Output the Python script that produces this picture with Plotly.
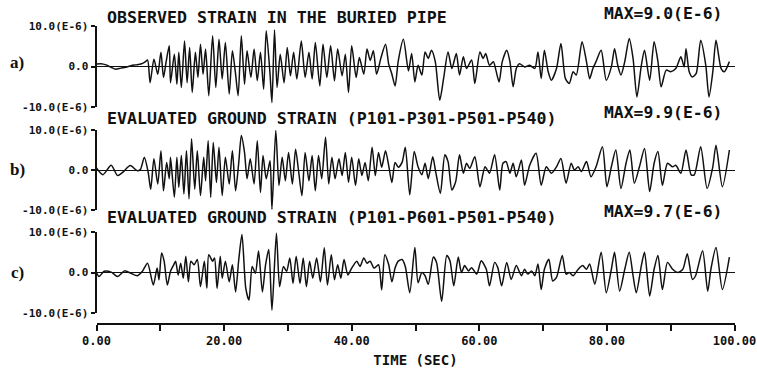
import plotly.graph_objects as go

# ---------------- data (strain in units of 1E-6, time in seconds) ----------------
t_a = [0.0, 0.7, 1.5, 2.3, 3.0, 3.8, 4.6, 5.4, 6.2, 6.95, 7.5,
       8.0, 8.4, 9.0, 9.6, 10.1, 10.5, 10.9, 11.4, 11.6, 12.2, 12.6, 12.9, 13.3, 13.8,
       14.2, 14.6, 15.0, 15.5, 15.9, 16.3, 16.7, 17.1, 17.6, 18.2, 18.7, 19.2, 19.7,
       20.2, 20.8, 21.3, 21.8, 22.2, 22.7, 23.2, 23.6, 24.2, 24.7, 25.2, 25.7, 26.2,
       26.6, 27.2, 27.5, 27.9, 28.3, 28.8, 29.4, 29.9, 30.4, 30.9, 31.4, 32.1, 32.7,
       33.3, 33.8, 34.3, 35.0, 35.5, 36.1, 36.7, 37.3, 37.8, 38.5, 39.0, 39.5, 40.0,
       40.7, 41.2, 41.9, 42.4, 42.9, 43.4, 43.9, 44.6, 45.3, 45.8, 46.3, 46.8, 47.3,
       48.1, 48.9,
       49.4, 49.9, 50.4, 51.0, 51.5, 52.0, 52.5, 53.1, 53.8, 54.4, 55.1, 55.7, 56.4,
       56.9, 57.5, 58.0, 58.8, 59.3, 60.1, 60.6, 61.0, 61.6, 62.2, 62.6, 63.1, 63.6,
       64.3, 64.8, 65.3, 65.8, 66.3, 67.1, 67.9, 68.7, 69.2, 69.7, 70.2, 70.8, 71.3,
       72.1, 72.8, 73.5, 74.1, 74.7, 75.2, 76.1, 76.8, 77.3, 77.8, 78.3, 79.1, 79.9,
       80.7, 81.2, 81.7, 82.2, 82.8, 83.5, 84.1, 84.7, 85.4, 85.9, 86.7, 87.4, 88.0,
       88.5, 89.3, 90.0, 90.8, 91.6, 92.1, 92.4, 92.9, 93.4, 94.0, 94.7, 95.5, 96.0,
       96.6, 97.1, 97.9, 98.4, 99.2]
v_a = [0.6, 0.7, 0.4, -0.2, -0.7, -0.4, -0.2, 0.2, 0.4, 0.6, 1.0,
       1.6, -4.0, 1.8, -1.9, 3.5, -2.7, 1.0, 5.1, -4.0, 3.0, -4.4, 3.5, -5.2, 6.3,
       -4.0, 4.7, -6.4, 3.5, -2.7, 5.5, -1.9, 4.3, -7.2, 7.6, -5.2, 6.7, -3.1,
       5.9, -6.8, 3.9, -1.9, -7.2, 7.6, -4.4, 3.9, -2.7, 4.3, -3.5, 3.5, -5.6,
       8.8, -1.9, -8.9, 9.0, -5.2, 3.0, -4.0, 4.7, -2.3, 3.5, -3.1, 6.3, -2.7,
       3.5, -3.1, 5.9, -4.8, 5.5, -2.7, 5.1, -3.5, 4.3, -2.3, 3.0, -6.4, 5.1,
       -2.7, 2.2, -1.9, 4.3, 1.5, 3.9, -1.9, 2.2, 5.5, 0.6, -1.9, -4.8, 1.4,
       6.7, -1.1,
       3.2, -3.8, 0.3, -2.1, 3.6, 2.0, 4.0, 1.2, -8.3, -3.0, 3.6, -0.5, 3.2,
       -2.1, 2.4, -0.5, 1.6, -4.2, 3.6, 2.0, 3.2, 0.3, 1.2, -0.9, -3.8, 1.2,
       4.0, 1.2, -5.0, -0.5, 0.7, -0.1, 0.3, -0.5, 3.6, -3.0, 4.0, -1.3, -3.4,
       -0.5, 5.7, -3.0, -4.2, -1.3, -2.1, 6.1, 1.2, -3.0, -0.5, 1.2, 4.0, -3.4,
       -0.1, 4.4, 0.3, -2.1, 1.2, 6.9, 2.0, -7.5, 0.3, 4.0, -3.4, 6.1, 1.2,
       -5.0, -0.9, -1.3, -0.5, 2.4, -0.1, 4.4, -1.3, -2.6, -1.7, 6.5, 0.3, -7.5,
       -1.3, 6.5, -0.5, -1.3, 1.2]

t_b = [0.0, 1.0, 2.3, 3.3, 4.1, 5.3, 6.4, 6.9, 7.5, 8.1, 8.5, 9.0, 9.6, 10.1, 10.5,
       11.0, 11.4, 11.6, 12.2, 12.6, 12.9, 13.3, 13.7, 14.1, 14.5, 14.9, 15.4, 15.8,
       16.3, 16.8, 17.1, 17.5, 17.9, 18.3, 18.8, 19.2, 19.7, 20.2, 20.8, 21.3, 21.8,
       22.3, 22.7, 23.2, 23.6, 24.1, 24.7, 25.2, 25.7, 26.1, 26.6, 27.2, 27.5, 28.1,
       28.6, 29.1, 29.6, 30.1, 30.7, 31.2, 31.7, 32.2, 32.7, 33.3, 33.8, 34.3, 34.8,
       35.3, 35.9, 36.4, 36.9, 37.4, 38.0, 38.5, 39.0, 39.5, 40.0, 40.6, 41.1, 41.6,
       42.1, 42.6, 43.2, 43.7, 44.2, 44.7, 45.3, 45.8, 46.3, 46.8, 47.3, 47.9, 48.4,
       49.1, 49.8, 50.4, 51.0, 51.5, 52.0, 52.7, 53.2, 53.9, 54.6, 55.1, 55.7, 56.3,
       56.9, 57.5, 58.0, 58.5, 59.3, 60.1, 60.9, 61.6, 62.4, 63.2, 63.7, 64.2, 64.8,
       65.3, 65.8, 66.6, 67.1, 67.9, 68.9, 69.7, 70.5, 71.3, 72.1, 72.8, 73.6, 74.4,
       74.9, 75.5, 76.0, 76.8, 77.5, 78.3, 79.3, 80.0, 80.7, 81.4, 82.2, 83.0, 83.6,
       84.3, 85.1, 85.9, 86.7, 87.4, 88.0, 88.7, 89.5, 90.3, 90.8, 91.6, 92.4, 93.2,
       93.7, 94.7, 95.7, 96.6, 97.1, 98.1, 99.2]
v_b = [0.5, -1.2, 1.2, -1.4, -0.6, 1.1, -0.2, 0.2, 3.2, -0.6, -4.8, 2.8, -3.5, 4.8, -5.2,
       1.9, -2.2, 3.2, -6.8, 3.2, -4.3, 3.6, -6.0, 4.8, -7.2, 7.8, -4.8, 4.8,
       -6.4, 3.2, -2.7, 7.3, -6.8, 6.9, -3.1, 5.7, -6.4, 3.2, -3.5, 4.8, -5.2,
       1.9, 8.6, 4.4, -2.2, 2.8, -3.5, 7.3, -5.6, 3.6, -2.2, 2.3, -9.8, 9.9,
       -3.9, 3.2, -2.7, 4.4, -3.5, 5.2, -0.6, -6.4, 4.4, -2.7, 3.6, -5.2, 3.6,
       -2.2, 8.2, -3.5, 3.2, -2.2, 2.8, -1.4, 4.4, -3.1, 3.2, -3.9, 2.8, -1.4,
       1.9, -2.7, 5.7, -1.4, 4.4, 0.7, 4.8, 1.1, -3.1, 1.9, 0.7, 1.9, 5.7,
       -6.2, 4.6, 0.8, -1.2, 1.7, -2.1, 3.3, -0.8, -5.8, 3.8, 2.1, -5.0, -2.9,
       3.8, -0.8, 1.7, 0.4, 3.3, -4.2, 0.8, -0.8, 3.8, -5.0, 1.7, 2.1, -0.8,
       1.7, -1.7, 2.5, -3.8, 1.2, 4.2, -3.8, 0.8, -0.8, 0.8, 2.9, -3.3, 1.7,
       0.0, 0.8, -0.4, 2.1, -1.7, 0.8, 5.8, -4.2, 0.8, 5.0, -4.6, 1.7, 5.0,
       -3.3, 0.8, 5.4, -5.4, 1.7, 4.6, -3.8, 1.7, 0.8, 1.2, -0.8, 5.0, -1.2,
       -1.2, 5.8, -4.6, 0.8, 6.2, -4.2, 5.0]

t_c = [0.0, 0.4, 1.2, 2.3, 3.3, 4.4, 5.4, 6.4, 7.2, 8.0, 8.9, 9.5, 9.8, 10.2, 10.6,
       11.1, 11.6, 12.1, 12.4, 12.8, 13.2, 13.6, 14.0, 14.4, 14.8, 15.3, 15.8, 16.3,
       16.9, 17.3, 17.6, 18.2, 18.5, 18.9, 19.4, 19.7, 20.2, 20.8, 21.3, 21.8, 22.3,
       22.8, 23.4, 23.9, 24.4, 24.9, 25.4, 26.0, 26.5, 27.0, 27.5, 28.2, 28.7, 29.3,
       29.8, 30.3, 30.8, 31.3, 31.9, 32.4, 32.9, 33.4, 33.9, 34.5, 35.1, 35.7, 36.2,
       36.8, 37.3, 37.8, 38.3, 38.8, 39.4, 40.0, 40.8, 41.3, 41.9, 42.4, 42.9, 43.5,
       44.2, 44.7, 45.2, 45.8, 46.3, 46.8, 47.3, 47.9, 48.4,
       49.1, 49.9, 50.4, 51.0, 51.5, 52.0, 52.8, 53.3, 54.1, 54.9, 55.4, 56.0, 56.7,
       57.2, 57.7, 58.3, 58.8, 59.6, 60.3, 61.1, 61.6, 62.4, 62.9, 63.5, 64.3, 65.0,
       65.8, 66.6, 67.1, 67.6, 68.2, 68.7, 69.2, 69.7, 70.2, 70.9, 71.5, 72.1, 73.0,
       73.6, 74.1, 74.7, 75.5, 76.2, 76.8, 77.3, 78.1, 79.1, 79.9, 80.7, 81.2, 82.0,
       82.8, 83.5, 84.1, 84.6, 85.4, 85.9, 86.7, 87.4, 88.0, 88.7, 89.5, 90.3, 91.1,
       91.9, 92.6, 93.4, 93.9, 95.0, 95.8, 96.3, 97.1, 98.1, 99.2]
v_c = [0.0, -1.0, 0.3, 0.1, -1.0, 0.4, -0.2, -0.8, 0.3, 2.3, -3.1, 1.1, -1.8, 4.8, 2.8,
       -3.1, 0.3, 1.9, 2.8, -0.6, 2.3, -1.4, 4.0, -2.3, 2.8, 1.9, 3.2, -3.5,
       2.8, -3.9, 4.4, 2.8, 3.6, -3.9, 4.0, -1.4, 2.8, -2.3, 1.9, -4.8, 3.2,
       9.4, -3.9, -6.8, 1.5, -0.2, 5.3, -4.8, 1.9, 5.7, -9.3, 9.7, -3.5, 1.5,
       0.3, 3.6, -2.7, 4.0, -2.7, 3.6, -3.5, 2.8, -1.4, 3.6, -2.3, 6.1, -3.1,
       4.4, -1.8, 1.9, -1.4, 3.2, -0.6, 1.1, 2.8, 1.5, 3.6, 2.3, 2.8, 1.1,
       1.9, -4.3, 4.4, 1.9, -2.3, 1.1, 2.8, 3.2, 1.5,
       -5.0, 6.2, -2.5, 0.0, -0.8, -2.9, 3.8, 2.5, -7.1, 4.2, 2.9, -3.3, 3.8,
       0.0, 1.7, 0.4, 1.2, -0.4, 2.9, 0.8, -3.3, 2.5, 1.2, -3.3, 2.5, -1.7,
       1.7, -0.8, 0.8, -0.4, 0.4, -0.8, 2.1, -4.2, 0.8, 3.3, -2.1, -1.2, 4.2,
       -0.4, 0.0, -0.8, 0.8, 1.7, 0.8, 2.1, -2.9, 5.0, -5.0, 0.8, 5.0, -4.6,
       0.8, 5.0, -0.8, -5.0, 1.7, 5.0, -5.8, 0.8, 4.2, -4.2, 2.5, 0.8, 0.0,
       0.8, 4.6, -1.7, -0.8, 5.4, -4.6, 0.8, 6.2, -4.2, 3.8]

titles = ["OBSERVED STRAIN IN THE BURIED PIPE",
          "EVALUATED GROUND STRAIN (P101-P301-P501-P540)",
          "EVALUATED GROUND STRAIN (P101-P601-P501-P540)"]
max_labels = ["MAX=9.0(E-6)", "MAX=9.9(E-6)", "MAX=9.7(E-6)"]
panel_tags = ["a)", "b)", "c)"]
y_tickvals = [-10, 0, 10]
y_ticktext = ["-10.0(E-6)", "0.0", "10.0(E-6)"]
x_tickvals = [0, 10, 20, 30, 40, 50, 60, 70, 80, 90, 100]
x_ticktext = ["0.00", "", "20.00", "", "40.00", "", "60.00", "", "80.00", "", "100.00"]
x_title = "TIME (SEC)"

# ---------------- layout geometry (pixels of the 757x371 canvas) ----------------
W, H = 757, 371
MONO = "DejaVu Sans Mono"
INK = "#111111"
def px(x):
    return x / W
def py(y):
    return 1 - y / H

x_dom = [px(96.5), px(734.5)]
panel_px = [(26, 107), (130, 210), (232, 313)]      # top, bottom of each y axis
title_y = [17, 118, 217]
max_y = [13, 113, 211]
tag_y = [63, 169, 272]

series = [(t_a, v_a), (t_b, v_b), (t_c, v_c)]

fig = go.Figure()
for i, (t, v) in enumerate(series):
    yname = "y" if i == 0 else f"y{i+1}"
    fig.add_trace(go.Scatter(x=t, y=v, mode="lines", xaxis="x", yaxis=yname,
                             line=dict(color=INK, width=1.5, shape="spline", smoothing=0.7),
                             hoverinfo="skip", showlegend=False))

layout = dict(
    width=W, height=H, margin=dict(l=0, r=0, t=0, b=0, autoexpand=False),
    paper_bgcolor="white", plot_bgcolor="rgba(0,0,0,0)", showlegend=False,
    xaxis=dict(domain=x_dom, range=[0, 100], anchor="free", position=py(324),
               automargin=False,
               showline=True, linewidth=2, linecolor=INK,
               ticks="outside", ticklen=6, tickwidth=1.5, tickcolor=INK,
               tickvals=x_tickvals, ticktext=x_ticktext,
               tickfont=dict(family=MONO, size=12, color=INK, weight="bold"),
               showgrid=False, zeroline=False,
               title=dict(text=x_title, font=dict(family=MONO, size=14, color=INK, weight="bold"),
                          standoff=7)),
)
annotations = []
for i in range(3):
    top, bot = panel_px[i]
    key = "yaxis" if i == 0 else f"yaxis{i+1}"
    layout[key] = dict(domain=[py(bot), py(top)], range=[-10, 10], anchor="x", automargin=False,
                       showline=True, linewidth=2, linecolor=INK,
                       ticks="outside", ticklen=4, tickwidth=2, tickcolor=INK,
                       tickvals=y_tickvals, ticktext=y_ticktext,
                       tickfont=dict(family=MONO, size=11, color=INK, weight="bold"),
                       showgrid=False, zeroline=True, zerolinecolor=INK, zerolinewidth=1.4)
    # overlay axis providing the inner half of the cross ticks at +/-10
    okey = f"yaxis{i+4}"
    base = "y" if i == 0 else f"y{i+1}"
    layout[okey] = dict(overlaying=base, range=[-10, 10], anchor="x", side="left", automargin=False,
                        showline=False, ticks="inside", ticklen=4, tickwidth=2, tickcolor=INK,
                        tickvals=[-10, 10], showticklabels=False,
                        showgrid=False, zeroline=False)
    annotations.append(dict(text=titles[i], x=px(105), y=py(title_y[i]), xref="paper", yref="paper",
                            xanchor="left", yanchor="middle", showarrow=False,
                            font=dict(family=MONO, size=16.6, color=INK, weight="bold")))
    annotations.append(dict(text=max_labels[i], x=px(724), y=py(max_y[i]), xref="paper", yref="paper",
                            xanchor="right", yanchor="middle", showarrow=False,
                            font=dict(family=MONO, size=16.4, color=INK, weight="bold")))
    annotations.append(dict(text=panel_tags[i], x=px(17), y=py(tag_y[i]), xref="paper", yref="paper",
                            xanchor="center", yanchor="middle", showarrow=False,
                            font=dict(family="Liberation Serif", size=17, color=INK, weight="bold")))
layout["annotations"] = annotations
fig.update_layout(**layout)

fig.write_html("out.html", config={"displayModeBar": False},
               post_script="document.body.style.margin='0';")
